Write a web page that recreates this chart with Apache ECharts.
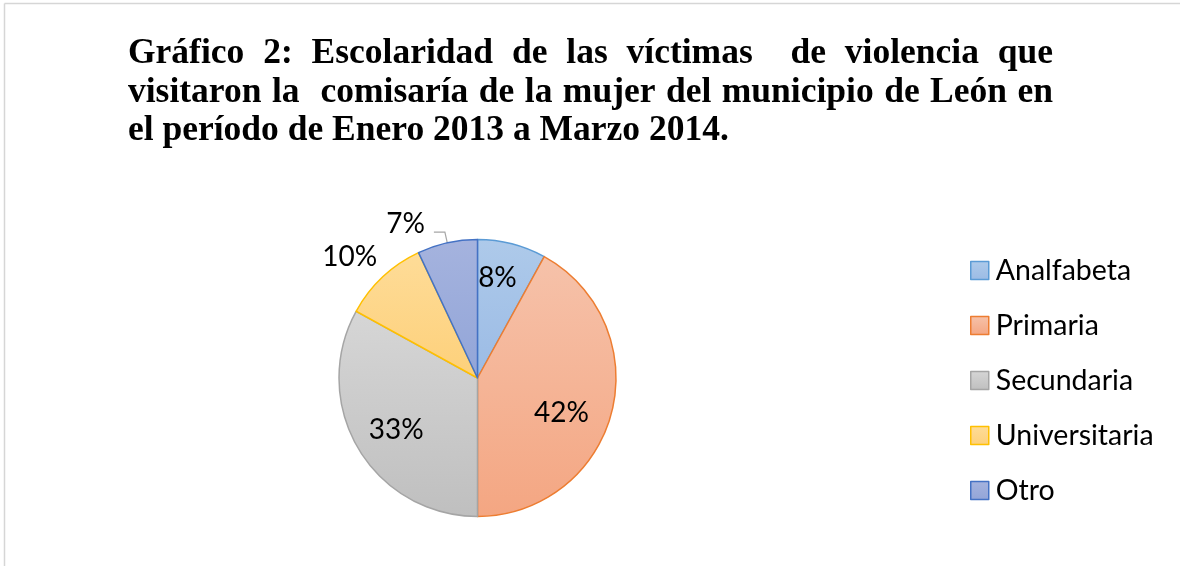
<!DOCTYPE html>
<html>
<head>
<meta charset="utf-8">
<script src="https://cdn.jsdelivr.net/npm/echarts@6/dist/echarts.min.js"></script>
<style>
html,body{margin:0;padding:0;background:#fff;}
#c{width:1180px;height:566px;}
</style>
</head>
<body>
<div id="c"></div>
<script>
const categories = ['Analfabeta', 'Primaria', 'Secundaria', 'Universitaria', 'Otro'];
const values = [8, 42, 33, 10, 7];
const titleLines = [
  'Gráfico 2: Escolaridad de las víctimas  de violencia que',
  'visitaron la  comisaría de la mujer del municipio de León en',
  'el período de Enero 2013 a Marzo 2014.'
];

const fills = [
  ['#aecaea', '#9bbbe5'],
  ['#f6c2aa', '#f4a682'],
  ['#d6d6d6', '#bfbfbf'],
  ['#fedc98', '#fdd07a'],
  ['#a5b3de', '#92a5d8']
];
const borders = ['#5b9bd5', '#ed7d31', '#a5a5a5', '#ffc000', '#4472c4'];
const labelCfg = [
  { position: 'inside', offset: [2, -30] },
  { position: 'inside', offset: [14, 17] },
  { position: 'inside', offset: [-19, 15] },
  { position: 'outside', offset: [0, -14], line: false, l1: 8, l2: 0, dist: 0 },
  { position: 'outside', offset: [-4, -8], line: true, l1: 11, l2: 11, dist: 5 }
];

const chart = echarts.init(document.getElementById('c'), null, { renderer: 'canvas' });

// Title: justified lines (first two), measured with canvas
const titleFont = 'bold 35.5px "Liberation Serif"';
const cv = document.createElement('canvas').getContext('2d');
cv.font = titleFont;
const tLeft = 128, tRight = 1053, tTop = 54, tStep = 38.5;
const graphics = [];
titleLines.forEach(function (line, i) {
  const y = tTop + i * tStep;
  if (i < titleLines.length - 1) {
    const words = line.split(' ');
    const widths = words.map(function (w) { return cv.measureText(w).width; });
    const total = widths.reduce(function (a, b) { return a + b; }, 0);
    const gap = (tRight - tLeft - total) / (words.length - 1);
    let x = tLeft;
    words.forEach(function (w, j) {
      if (w) {
        graphics.push({ type: 'text', silent: true, style: { text: w, x: x, y: y, font: titleFont, fill: '#000', align: 'left', verticalAlign: 'middle' } });
      }
      x += widths[j] + gap;
    });
  } else {
    graphics.push({ type: 'text', silent: true, style: { text: line, x: tLeft, y: y, font: titleFont, fill: '#000', align: 'left', verticalAlign: 'middle' } });
  }
});
graphics.push({ type: 'line', silent: true, shape: { x1: 4.5, y1: 3.5, x2: 1180, y2: 3.5 }, style: { stroke: '#d6d6d6', lineWidth: 1.5 } });
graphics.push({ type: 'line', silent: true, shape: { x1: 4.5, y1: 3.5, x2: 4.5, y2: 566 }, style: { stroke: '#d6d6d6', lineWidth: 1.5 } });

const data = categories.map(function (name, i) {
  const lc = labelCfg[i];
  const item = {
    name: name,
    value: values[i],
    itemStyle: {
      color: new echarts.graphic.LinearGradient(0, 0, 0, 1, [
        { offset: 0, color: fills[i][0] },
        { offset: 1, color: fills[i][1] }
      ]),
      borderColor: borders[i],
      borderWidth: 1.5
    },
    label: { position: lc.position, offset: lc.offset }
  };
  if (lc.position === 'outside') {
    item.label.distanceToLabelLine = lc.dist;
    item.labelLine = { show: lc.line, length: lc.l1, length2: lc.l2, lineStyle: { color: '#a6a6a6', width: 1.2 } };
  }
  return item;
});

chart.setOption({
  animation: false,
  backgroundColor: '#fff',
  graphic: graphics,
  legend: {
    orient: 'vertical',
    left: 965,
    top: 251,
    icon: 'rect',
    itemWidth: 18,
    itemHeight: 18,
    itemGap: 26,
    selectedMode: false,
    itemStyle: { borderColor: 'inherit', borderWidth: 1.5 },
    textStyle: { fontFamily: 'Lato', fontSize: 28.5, color: '#000', lineHeight: 27, padding: [0, 0, 0, 2] },
    data: categories
  },
  series: [{
    type: 'pie',
    center: [477.5, 378],
    radius: 138.5,
    startAngle: 90,
    clockwise: true,
    avoidLabelOverlap: false,
    label: { show: true, formatter: '{d}%', fontFamily: 'Lato', fontSize: 28, color: '#000' },
    emphasis: { disabled: true },
    data: data
  }]
});
</script>
</body>
</html>
